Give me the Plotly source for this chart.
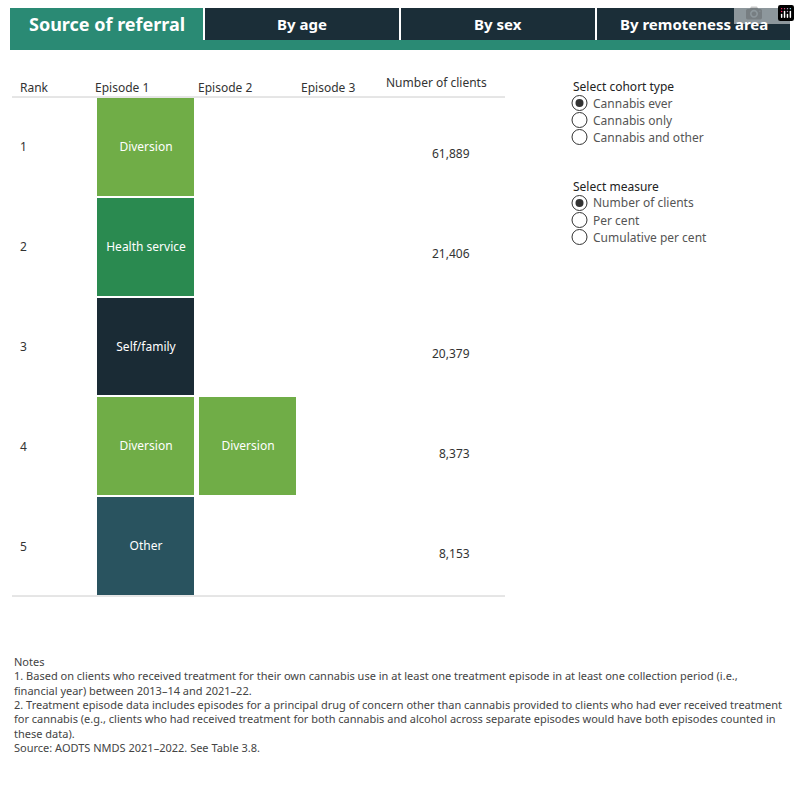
import plotly.graph_objects as go

ranks = [1, 2, 3, 4, 5]
episodes = ["Episode 1", "Episode 2", "Episode 3"]
ep1 = ["Diversion", "Health service", "Self/family", "Diversion", "Other"]
ep2 = [None, None, None, "Diversion", None]
ep3 = [None, None, None, None, None]
clients = [61889, 21406, 20379, 8373, 8153]
tabs = ["Source of referral", "By age", "By sex", "By remoteness area"]
cohort_opts = ["Cannabis ever", "Cannabis only", "Cannabis and other"]
measure_opts = ["Number of clients", "Per cent", "Cumulative per cent"]

cats = ["Diversion", "Health service", "Self/family", "Other"]
cols = ["#70ad47", "#2a8a50", "#1a2b35", "#29535f"]
F = "Noto Sans"

z, txt = [], []
for r in range(5):
    row, trow = [], []
    for e in (ep1, ep2, ep3):
        v = e[r]
        row.append(cats.index(v) if v else None)
        trow.append(v or "")
    z.append(row); txt.append(trow)

cs = []
for i, c in enumerate(cols):
    cs += [[i / 4, c], [(i + 1) / 4, c]]

fig = go.Figure(go.Heatmap(
    x=episodes, y=ranks, z=z, text=txt, texttemplate="%{text}",
    textfont=dict(color="white", size=12, family=F),
    colorscale=cs, zmin=-0.5, zmax=3.5, showscale=False, xgap=5, ygap=2,
    hoverinfo="skip"))

x0, x1 = 95 / 800, 401 / 800
yt, yb = 1 - 97 / 800, 1 - 596 / 800
fig.update_layout(
    width=800, height=800, margin=dict(l=0, r=0, t=0, b=0),
    plot_bgcolor="white", paper_bgcolor="white", font=dict(family=F, color="#333"),
    xaxis=dict(domain=[x0, x1], visible=False, range=[-0.5, 2.5], fixedrange=True),
    yaxis=dict(domain=[yb, yt], visible=False, range=[5.5, 0.5], fixedrange=True),
)

shapes, ann = [], []
def px(x): return x / 800
def py(y): return 1 - y / 800

def A(**k):
    k.setdefault("xanchor", "center")
    k.setdefault("yanchor", "middle")
    k.setdefault("showarrow", False)
    ann.append(k)

# tabs
tab_x = [(10, 203), (205, 399), (401, 595), (597, 790)]
shapes.append(dict(type="rect", xref="paper", yref="paper", x0=px(10), x1=px(790),
                   y0=py(50), y1=py(40), fillcolor="#2a8a74", line_width=0, layer="below"))
for i, ((a, b), t) in enumerate(zip(tab_x, tabs)):
    shapes.append(dict(type="rect", xref="paper", yref="paper", x0=px(a), x1=px(b),
                       y0=py(40 if i else 50), y1=py(8),
                       fillcolor="#2a8a74" if i == 0 else "#1b2e38", line_width=0))
    A(text=f"<b>{t}</b>", xref="paper", yref="paper", x=px((a + b) / 2), y=py(24),
      font=dict(color="white", size=18 if i == 0 else 15, family=F))

# table lines
for y in (97, 596):
    shapes.append(dict(type="line", xref="paper", yref="paper", x0=px(12), x1=px(505),
                       y0=py(y), y1=py(y), line=dict(color="#ccc", width=1)))
for t, x, anc in [("Rank", 18, "left"), ("Episode 1", 93, "left"), ("Episode 2", 196, "left"),
                  ("Episode 3", 299, "left"), ("Number of clients", 436, "center")]:
    A(text=t, xref="paper", yref="paper", x=px(x), y=py(87 if t != "Number of clients" else 82),
      xanchor=anc, font=dict(size=12, color="#333"))
for r, c in zip(ranks, clients):
    A(text=str(r), xref="paper", yref="y", x=px(18), y=r, xanchor="left", font=dict(size=12))
    A(text=f"{c:,}", xref="paper", yref="y", x=px(472), y=r, yshift=-7,
      xanchor="right", font=dict(size=12))

# radio groups
def group(title, opts, ytitle):
    A(text=title, xref="paper", yref="paper", x=px(571), y=py(ytitle), xanchor="left",
      font=dict(size=12, color="#222"))
    for i, o in enumerate(opts):
        yc = ytitle + 17 + 17 * i
        shapes.append(dict(type="circle", xref="paper", yref="paper", x0=px(572), x1=px(587),
                           y0=py(yc + 7.5), y1=py(yc - 7.5), line=dict(color="#333", width=1),
                           fillcolor="white"))
        if i == 0:
            shapes.append(dict(type="circle", xref="paper", yref="paper", x0=px(575.5), x1=px(583.5),
                               y0=py(yc + 4), y1=py(yc - 4), line_width=0, fillcolor="#333"))
        A(text=o, xref="paper", yref="paper", x=px(591), y=py(yc), xanchor="left",
          font=dict(size=12, color="#555"))
group("Select cohort type", cohort_opts, 86)
group("Select measure", measure_opts, 186)

notes = ("Notes<br>1. Based on clients who received treatment for their own cannabis use in at least one treatment episode in at least one collection period (i.e.,<br>"
         "financial year) between 2013–14 and 2021–22.<br>"
         "2. Treatment episode data includes episodes for a principal drug of concern other than cannabis provided to clients who had ever received treatment<br>"
         "for cannabis (e.g., clients who had received treatment for both cannabis and alcohol across separate episodes would have both episodes counted in<br>"
         "these data).<br>Source: AODTS NMDS 2021–2022. See Table 3.8.")
A(text=notes, xref="paper", yref="paper", x=px(12), y=py(652), xanchor="left", yanchor="top",
  align="left", font=dict(size=11, color="#444"))

fig.update_layout(shapes=shapes, annotations=ann)
fig.write_html("out.html", post_script="document.body.style.margin='0';document.body.style.overflow='hidden';")
